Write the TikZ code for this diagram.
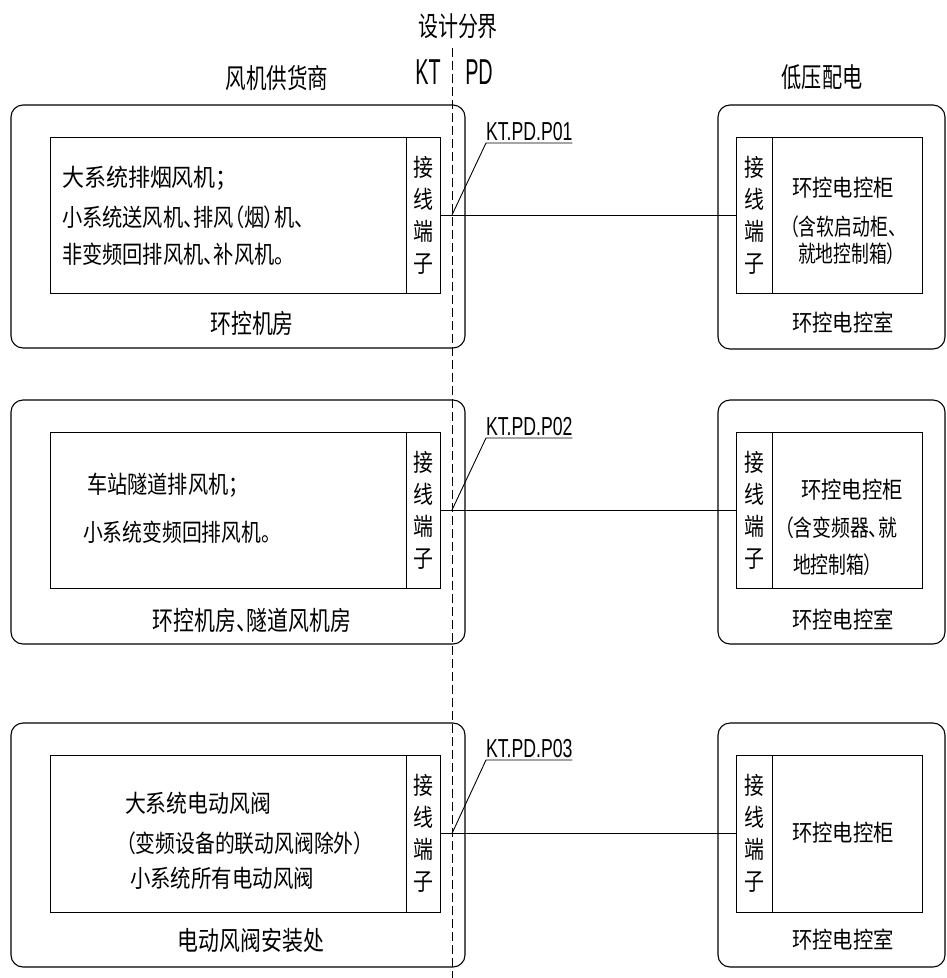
\documentclass[tikz,border=0pt]{standalone}
\usepackage{fontspec}
\newfontfamily\cjk[CharacterWidth=AlternateProportional]{Noto Sans CJK SC}
\newfontfamily\latn{Liberation Sans}
\newcommand{\stx}[3]{\scalebox{#1}[#2]{#3}}
\begin{document}
\begin{tikzpicture}[x=1pt,y=-1pt,
  every node/.style={inner sep=0pt, outer sep=0pt},
  outerbox/.style={draw, line width=1.1pt, rounded corners=12pt},
  innerbox/.style={draw, line width=0.9pt},
  wire/.style={line width=0.9pt},
  bound/.style={line width=0.9pt, dash pattern=on 9pt off 4pt},
  cnb/.style={font=\cjk\fontsize{22}{26}\selectfont},
  cnr/.style={font=\cjk\fontsize{21}{25}\selectfont},
  cnh/.style={font=\cjk\fontsize{21}{25}\selectfont},
  termtxt/.style={font=\cjk\fontsize{21}{32}\selectfont, align=center},
  tag/.style={font=\latn\fontsize{26}{30}\selectfont, inner ysep=2.5pt, inner xsep=0pt},
  side/.style={font=\latn\fontsize{36}{40}\selectfont},
]
\useasboundingbox (0,0) rectangle (946,978);

% header
\node[cnh] (title) at (458,26) {\stx{0.95}{1.3}{设计分界}};
\node[side] (kt) at (428,72) {\stx{0.55}{1}{KT}};
\node[side] (pd) at (479,72) {\stx{0.55}{1}{PD}};
\node[cnh] (supplier) at (277,78) {\stx{0.98}{1.3}{风机供货商}};
\node[cnh] (lv) at (822,77) {\stx{0.96}{1.3}{低压配电}};

% boundary line
\coordinate (dtop) at (452,48);
\coordinate (dbot) at (452,978);
\draw[bound] (dtop) -- (dbot);

% ---------- row 1 ----------
\node[outerbox, minimum width=454pt, minimum height=243pt] (LO1) at (238,226.5) {};
\node[outerbox, minimum width=227pt, minimum height=244pt] (RO1) at (831.5,227) {};
\node[innerbox, minimum width=356pt, minimum height=156pt] (LI1) at (228,215) {};
\node[innerbox, minimum width=34pt, minimum height=156pt] (LT1) at (423,215) {};
\node[innerbox, minimum width=36pt, minimum height=156pt] (RT1) at (754,215) {};
\node[innerbox, minimum width=150pt, minimum height=156pt] (RI1) at (847,215) {};
\node[termtxt] (LT1t) at (LT1.center) {\stx{0.95}{1.15}{接}\\\stx{0.95}{1.15}{线}\\\stx{0.95}{1.15}{端}\\\stx{0.95}{1.15}{子}};
\node[termtxt] (RT1t) at (RT1.center) {\stx{0.95}{1.15}{接}\\\stx{0.95}{1.15}{线}\\\stx{0.95}{1.15}{端}\\\stx{0.95}{1.15}{子}};
\node[cnb, anchor=west] (a1) at (62,178) {\stx{1}{1.1}{大系统排烟风机；}};
\node[cnb, anchor=west] (a2) at (62,217) {\stx{0.92}{1.1}{小系统送风机、排风（烟）机、}};
\node[cnb, anchor=west] (a3) at (62,254) {\stx{0.92}{1.1}{非变频回排风机、补风机。}};
\node[cnb] (a4) at (252,323) {\stx{0.95}{1.2}{环控机房}};
\node[cnr] (b1) at (843,188) {\stx{0.97}{1.1}{环控电控柜}};
\node[cnr, anchor=west] (b2) at (790,227) {\stx{0.85}{1.1}{（含软启动柜、}};
\node[cnr, anchor=west] (b3) at (798,254) {\stx{0.85}{1.1}{就地控制箱）}};
\node[cnr] (b4) at (843,323) {\stx{0.97}{1.1}{环控电控室}};
\draw[wire] (LT1.east) -- (RT1.west);
\coordinate (x1) at (dtop |- LT1.east);
\node[tag, anchor=south west] (tag1) at (486,143) {\stx{0.68}{1}{KT.PD.P01}};
\draw[wire] (x1) -- (tag1.south west) -- (tag1.south east);

% ---------- row 2 ----------
\node[outerbox, minimum width=454pt, minimum height=244pt] (LO2) at (238,522) {};
\node[outerbox, minimum width=227pt, minimum height=244pt] (RO2) at (831.5,522) {};
\node[innerbox, minimum width=356pt, minimum height=156pt] (LI2) at (228,510) {};
\node[innerbox, minimum width=34pt, minimum height=156pt] (LT2) at (423,510) {};
\node[innerbox, minimum width=36pt, minimum height=156pt] (RT2) at (754,510) {};
\node[innerbox, minimum width=150pt, minimum height=156pt] (RI2) at (847,510) {};
\node[termtxt] (LT2t) at (LT2.center) {\stx{0.95}{1.15}{接}\\\stx{0.95}{1.15}{线}\\\stx{0.95}{1.15}{端}\\\stx{0.95}{1.15}{子}};
\node[termtxt] (RT2t) at (RT2.center) {\stx{0.95}{1.15}{接}\\\stx{0.95}{1.15}{线}\\\stx{0.95}{1.15}{端}\\\stx{0.95}{1.15}{子}};
\node[cnb, anchor=west] (c1) at (87,485) {\stx{0.92}{1.1}{车站隧道排风机；}};
\node[cnb, anchor=west] (c2) at (83,532) {\stx{0.9}{1.1}{小系统变频回排风机。}};
\node[cnb] (c3) at (252,620) {\stx{0.95}{1.2}{环控机房、隧道风机房}};
\node[cnr] (d1) at (852,490) {\stx{0.97}{1.1}{环控电控柜}};
\node[cnr, anchor=west] (d2) at (784,528) {\stx{0.9}{1.1}{（含变频器、就}};
\node[cnr, anchor=west] (d3) at (793,565) {\stx{0.85}{1.1}{地控制箱）}};
\node[cnr] (d4) at (843,620) {\stx{0.97}{1.1}{环控电控室}};
\draw[wire] (LT2.east) -- (RT2.west);
\coordinate (x2) at (dtop |- LT2.east);
\node[tag, anchor=south west] (tag2) at (486,438) {\stx{0.68}{1}{KT.PD.P02}};
\draw[wire] (x2) -- (tag2.south west) -- (tag2.south east);

% ---------- row 3 ----------
\node[outerbox, minimum width=454pt, minimum height=244pt] (LO3) at (238,845) {};
\node[outerbox, minimum width=227pt, minimum height=244pt] (RO3) at (831.5,845) {};
\node[innerbox, minimum width=356pt, minimum height=157pt] (LI3) at (228,833.5) {};
\node[innerbox, minimum width=34pt, minimum height=157pt] (LT3) at (423,833.5) {};
\node[innerbox, minimum width=36pt, minimum height=157pt] (RT3) at (754,833.5) {};
\node[innerbox, minimum width=150pt, minimum height=157pt] (RI3) at (847,833.5) {};
\node[termtxt] (LT3t) at (LT3.center) {\stx{0.95}{1.15}{接}\\\stx{0.95}{1.15}{线}\\\stx{0.95}{1.15}{端}\\\stx{0.95}{1.15}{子}};
\node[termtxt] (RT3t) at (RT3.center) {\stx{0.95}{1.15}{接}\\\stx{0.95}{1.15}{线}\\\stx{0.95}{1.15}{端}\\\stx{0.95}{1.15}{子}};
\node[cnb, anchor=west] (e1) at (125,803) {\stx{0.95}{1.1}{大系统电动风阀}};
\node[cnb, anchor=west] (e2) at (126,843) {\stx{0.9}{1.1}{（变频设备的联动风阀除外）}};
\node[cnb, anchor=west] (e3) at (130,878) {\stx{0.93}{1.1}{小系统所有电动风阀}};
\node[cnb] (e4) at (251,940) {\stx{0.95}{1.2}{电动风阀安装处}};
\node[cnr] (f1) at (843,833) {\stx{0.97}{1.1}{环控电控柜}};
\node[cnr] (f4) at (843,940) {\stx{0.97}{1.1}{环控电控室}};
\draw[wire] (LT3.east) -- (RT3.west);
\coordinate (x3) at (dtop |- LT3.east);
\node[tag, anchor=south west] (tag3) at (486,760) {\stx{0.68}{1}{KT.PD.P03}};
\draw[wire] (x3) -- (tag3.south west) -- (tag3.south east);
\end{tikzpicture}
\end{document}
